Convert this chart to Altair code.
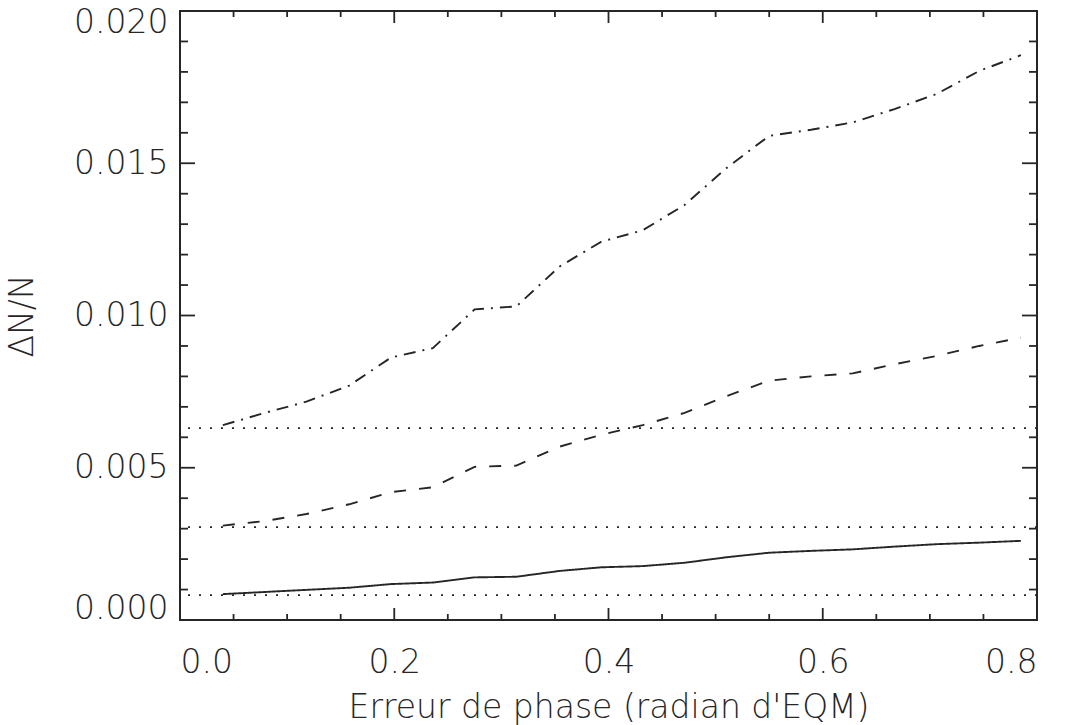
import altair as alt
import pandas as pd

# ---- data ----
phase_err = [0.040, 0.079, 0.118, 0.158, 0.197, 0.236, 0.275, 0.314, 0.354, 0.393,
             0.432, 0.471, 0.510, 0.550, 0.589, 0.628, 0.667, 0.706, 0.746, 0.785]
dashdot_vals = [0.0064, 0.0068, 0.00717, 0.0077, 0.00862, 0.00893, 0.0102, 0.0103, 0.0116, 0.01242,
                0.0128, 0.01363, 0.01484, 0.0159, 0.0161, 0.01634, 0.01678, 0.01727, 0.01803, 0.01855]
dashed_vals = [0.0031, 0.00325, 0.00348, 0.0038, 0.0042, 0.00436, 0.00503, 0.00507, 0.00569, 0.00608,
               0.0064, 0.0068, 0.00735, 0.00786, 0.0080, 0.0081, 0.0084, 0.00867, 0.0090, 0.00927]
solid_vals = [0.00085, 0.00092, 0.00099, 0.00106, 0.00118, 0.00123, 0.0014, 0.00142, 0.00161, 0.00173,
              0.00177, 0.00188, 0.00206, 0.00221, 0.00227, 0.00232, 0.00241, 0.00249, 0.00254, 0.0026]
dotted_levels = [0.00082, 0.00305, 0.0063]

x_major = [0.0, 0.2, 0.4, 0.6, 0.8]
x_minor = [0.05, 0.1, 0.15, 0.25, 0.3, 0.35, 0.45, 0.5, 0.55, 0.65, 0.7, 0.75]
y_major = [0.0, 0.005, 0.010, 0.015, 0.020]
y_minor = [0.001, 0.002, 0.003, 0.004, 0.006, 0.007, 0.008, 0.009, 0.011, 0.012, 0.013, 0.014,
           0.016, 0.017, 0.018, 0.019]

W, H = 857, 609
FONT = "DejaVu Sans"
INK = "#262626"

xs = alt.Scale(domain=[0, 0.8], nice=False, zero=False)
ys = alt.Scale(domain=[0, 0.02], nice=False, zero=False)

x_axis = alt.Axis(title="Erreur de phase (radian d'EQM)", values=x_major, format=".1f",
                  ticks=False, tickSize=0, domain=False, grid=False,
                  labelFont=FONT, labelFontSize=33, labelFontWeight=200, labelColor=INK,
                  labelPadding=52, labelBaseline="alphabetic",
                  titleFont=FONT, titleFontSize=33, titleFontWeight=200, titleColor=INK,
                  titleY=97, titleBaseline="alphabetic")
y_axis = alt.Axis(title="ΔN/N", values=y_major, format=".3f",
                  ticks=False, tickSize=0, domain=False, grid=False,
                  labelFont=FONT, labelFontSize=33, labelFontWeight=200, labelColor=INK,
                  labelPadding=12, labelFlush=True, labelFlushOffset=5,
                  titleFont=FONT, titleFontSize=33, titleFontWeight=200, titleColor=INK,
                  titleX=-158, titleY=H / 2, titleBaseline="middle", titleAngle=-90)

def series_df(vals):
    return pd.DataFrame({"x": phase_err, "y": vals})

base_lines = []
for vals, dash in [(solid_vals, [1, 0]), (dashed_vals, [12, 13]), (dashdot_vals, [12, 7, 2, 7])]:
    base_lines.append(
        alt.Chart(series_df(vals)).mark_line(color=INK, strokeWidth=1.9, strokeDash=dash).encode(
            x=alt.X("x:Q", scale=xs, axis=x_axis),
            y=alt.Y("y:Q", scale=ys, axis=y_axis),
        )
    )

dotted = alt.Chart(pd.DataFrame({"y": dotted_levels})).mark_rule(
    color=INK, strokeWidth=1.8, strokeDash=[2, 9]
).encode(y=alt.Y("y:Q", scale=ys))

def xticks(vals, length):
    df = pd.DataFrame({"x": vals})
    bottom = alt.Chart(df).mark_rule(color=INK, strokeWidth=1.8).encode(
        x=alt.X("x:Q", scale=xs), y=alt.value(H), y2=alt.value(H - length))
    top = alt.Chart(df).mark_rule(color=INK, strokeWidth=1.8).encode(
        x=alt.X("x:Q", scale=xs), y=alt.value(0), y2=alt.value(length))
    return [bottom, top]

def yticks(vals, length):
    df = pd.DataFrame({"y": vals})
    left = alt.Chart(df).mark_rule(color=INK, strokeWidth=1.8).encode(
        y=alt.Y("y:Q", scale=ys), x=alt.value(0), x2=alt.value(length))
    right = alt.Chart(df).mark_rule(color=INK, strokeWidth=1.8).encode(
        y=alt.Y("y:Q", scale=ys), x=alt.value(W), x2=alt.value(W - length))
    return [left, right]

tick_layers = xticks(x_major, 12) + xticks(x_minor, 6) + yticks(y_major, 15) + yticks(y_minor, 8)

chart = alt.layer(*base_lines, dotted, *tick_layers).properties(
    width=W, height=H,
    autosize="none",
    padding={"left": 180, "top": 11, "right": 1072 - 180 - W, "bottom": 725 - 11 - H},
    background="white",
).configure_view(stroke=INK, strokeWidth=2)

chart.save("out.html", embed_options={"renderer": "svg", "actions": False})
